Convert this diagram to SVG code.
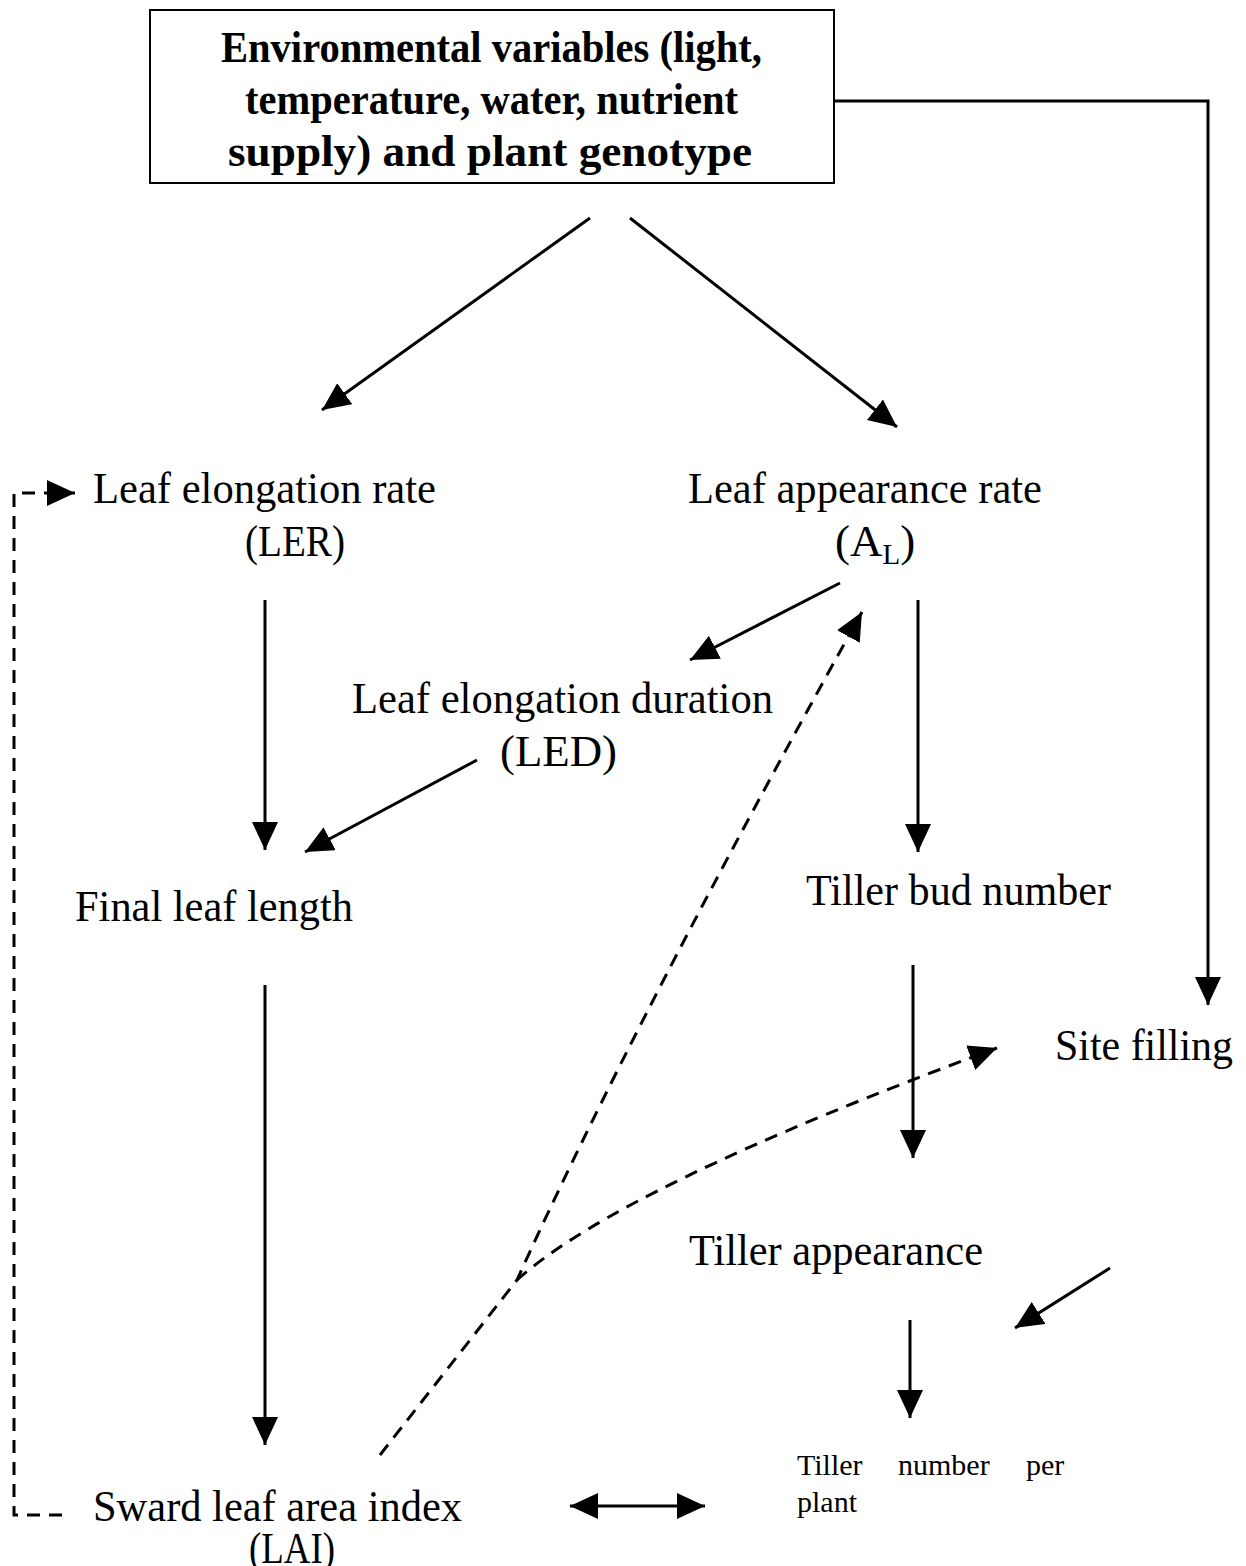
<svg xmlns="http://www.w3.org/2000/svg" width="1246" height="1566" viewBox="0 0 1246 1566">
<defs>
<style>
.t{font-family:"Liberation Serif","Times New Roman",serif;font-size:45px;fill:#000}
.b{font-family:"Liberation Serif","Times New Roman",serif;font-size:44px;font-weight:bold;fill:#000}
.s{font-family:"Liberation Serif","Times New Roman",serif;font-size:30px;fill:#000}
.ln{fill:none;stroke:#000;stroke-width:3}
.d{fill:none;stroke:#000;stroke-width:3;stroke-dasharray:13 9}
</style>
<marker id="ah" markerUnits="userSpaceOnUse" markerWidth="30" markerHeight="28" refX="28" refY="13" orient="auto-start-reverse" viewBox="0 0 30 28">
<path d="M0,0 L28,13 L0,26 z" fill="#000"/>
</marker>
</defs>
<rect width="1246" height="1566" fill="#fff"/>
<g id="env">
<rect x="150" y="10" width="684" height="173" fill="#fff" stroke="#000" stroke-width="2"/>
<text class="b" x="221" y="62" textLength="541" lengthAdjust="spacingAndGlyphs">Environmental variables (light,</text>
<text class="b" x="245" y="114" textLength="493" lengthAdjust="spacingAndGlyphs">temperature, water, nutrient</text>
<text class="b" x="228" y="166" textLength="524" lengthAdjust="spacingAndGlyphs">supply) and plant genotype</text>
</g>
<g id="ler"><text class="t" x="93" y="503" textLength="343" lengthAdjust="spacingAndGlyphs">Leaf elongation rate</text><text class="t" x="245" y="556" textLength="100" lengthAdjust="spacingAndGlyphs">(LER)</text></g>
<g id="al"><text class="t" x="688" y="503" textLength="354" lengthAdjust="spacingAndGlyphs">Leaf appearance rate</text><text class="t" x="835" y="556">(A<tspan font-size="29" dy="8">L</tspan><tspan dy="-8">)</tspan></text></g>
<g id="led"><text class="t" x="352" y="713" textLength="421" lengthAdjust="spacingAndGlyphs">Leaf elongation duration</text><text class="t" x="500" y="766" textLength="117" lengthAdjust="spacingAndGlyphs">(LED)</text></g>
<g id="fll"><text class="t" x="75" y="921" textLength="278" lengthAdjust="spacingAndGlyphs">Final leaf length</text></g>
<g id="tbn"><text class="t" x="806" y="905" textLength="305" lengthAdjust="spacingAndGlyphs">Tiller bud number</text></g>
<g id="site"><text class="t" x="1055" y="1060" textLength="178" lengthAdjust="spacingAndGlyphs">Site filling</text></g>
<g id="ta"><text class="t" x="689" y="1265" textLength="294" lengthAdjust="spacingAndGlyphs">Tiller appearance</text></g>
<g id="lai"><text class="t" x="93" y="1521" textLength="369" lengthAdjust="spacingAndGlyphs">Sward leaf area index</text><text class="t" x="249" y="1563" textLength="86" lengthAdjust="spacingAndGlyphs">(LAI)</text></g>
<g id="tnp"><text class="s" x="797" y="1475">Tiller</text><text class="s" x="898" y="1475">number</text><text class="s" x="1026" y="1475">per</text><text class="s" x="797" y="1512">plant</text></g>
<g id="connectors">
<path class="ln" d="M834,101 H1208 V1005" marker-end="url(#ah)"/>
<path class="ln" d="M590,218 L322,410" marker-end="url(#ah)"/>
<path class="ln" d="M630,218 L897,427" marker-end="url(#ah)"/>
<path class="d" d="M62,1515 H14 V493 H75" marker-end="url(#ah)"/>
<path class="ln" d="M265,600 V850" marker-end="url(#ah)"/>
<path class="ln" d="M840,583 L690,660" marker-end="url(#ah)"/>
<path class="ln" d="M477,760 L305,852" marker-end="url(#ah)"/>
<path class="ln" d="M918,600 V852" marker-end="url(#ah)"/>
<path class="ln" d="M265,985 V1445" marker-end="url(#ah)"/>
<path class="ln" d="M913,965 V1158" marker-end="url(#ah)"/>
<path class="ln" d="M910,1320 V1418" marker-end="url(#ah)"/>
<path class="ln" d="M1110,1268 L1015,1328" marker-end="url(#ah)"/>
<path class="ln" d="M570,1506 H705" marker-start="url(#ah)" marker-end="url(#ah)"/>
<path class="d" d="M380,1455 L517,1280 Q634,1021 862,612" marker-end="url(#ah)"/>
<path class="d" d="M517,1280 Q620,1187 997,1048" marker-end="url(#ah)"/>
</g>
</svg>
